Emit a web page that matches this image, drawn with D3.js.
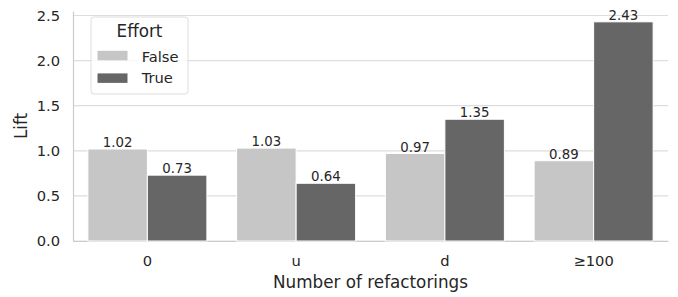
<!DOCTYPE html>
<html>
<head>
<meta charset="utf-8">
<script src="https://cdn.jsdelivr.net/npm/d3@7"></script>
<style>
  body { margin: 0; background: #fff; }
  text { font-family: "DejaVu Sans", sans-serif; fill: #262626; }
</style>
</head>
<body>
<svg id="chart" width="678" height="297"></svg>
<script>
const categories = ["0", "u", "d", "≥100"];
const seriesNames = ["False", "True"];
const falseValues = [1.02, 1.03, 0.97, 0.89];
const trueValues = [0.73, 0.64, 1.35, 2.43];
const yTicks = [0, 0.5, 1.0, 1.5, 2.0, 2.5];
const colors = { False: "#c6c6c6", True: "#666666" };

const svg = d3.select("#chart");
const margin = { left: 73, right: 10, top: 11, bottom: 56 };
const width = +svg.attr("width");
const height = +svg.attr("height");
const plotW = width - margin.left - margin.right;
const plotBottom = height - margin.bottom;

const data = categories.map((c, i) => ({
  cat: c,
  False: falseValues[i],
  True: trueValues[i]
}));

const x = d3.scaleBand()
  .domain(categories)
  .range([margin.left, margin.left + plotW])
  .paddingInner(0.2)
  .paddingOuter(0.1);

const xInner = d3.scaleBand()
  .domain(seriesNames)
  .range([0, x.bandwidth()]);

const y = d3.scaleLinear()
  .domain([0, 2.55])
  .range([plotBottom, margin.top]);

// grid lines
svg.append("g")
  .selectAll("line")
  .data(yTicks)
  .enter()
  .append("line")
  .attr("x1", margin.left)
  .attr("x2", margin.left + plotW)
  .attr("y1", (d) => y(d))
  .attr("y2", (d) => y(d))
  .attr("stroke", "#dddddd")
  .attr("stroke-width", 1.2);

// y axis
const yAxis = svg.append("g")
  .attr("transform", `translate(${margin.left},0)`)
  .call(d3.axisLeft(y).tickValues(yTicks).tickFormat(d3.format(".1f")).tickSize(0).tickPadding(13));
yAxis.select(".domain").attr("stroke", "#cccccc").attr("stroke-width", 1.2);
yAxis.selectAll("text").attr("font-size", "14.7px").attr("fill", "#262626");

// x axis
const xAxis = svg.append("g")
  .attr("transform", `translate(0,${plotBottom})`)
  .call(d3.axisBottom(x).tickSize(0).tickPadding(15));
xAxis.select(".domain").attr("stroke", "#cccccc").attr("stroke-width", 1.2);
xAxis.selectAll("text").attr("font-size", "14.7px").attr("fill", "#262626");

// bars
const groups = svg.append("g")
  .selectAll("g")
  .data(data)
  .enter()
  .append("g")
  .attr("transform", (d) => `translate(${x(d.cat)},0)`);

groups.selectAll("rect")
  .data((d) => seriesNames.map((s) => ({ key: s, value: d[s] })))
  .enter()
  .append("rect")
  .attr("x", (d) => xInner(d.key))
  .attr("width", xInner.bandwidth())
  .attr("y", (d) => y(d.value))
  .attr("height", (d) => y(0) - y(d.value))
  .attr("fill", (d) => colors[d.key])
  .attr("stroke", "#ffffff")
  .attr("stroke-width", 1);

groups.selectAll("text")
  .data((d) => seriesNames.map((s) => ({ key: s, value: d[s] })))
  .enter()
  .append("text")
  .attr("x", (d) => xInner(d.key) + xInner.bandwidth() / 2)
  .attr("y", (d) => y(d.value) - 2)
  .attr("text-anchor", "middle")
  .attr("font-size", "13.3px")
  .text((d) => d3.format(".2f")(d.value));

// axis labels
svg.append("text")
  .attr("x", margin.left + plotW / 2)
  .attr("y", 288)
  .attr("text-anchor", "middle")
  .attr("font-size", "16.8px")
  .text("Number of refactorings");

svg.append("text")
  .attr("transform", `translate(27,${(margin.top + plotBottom) / 2}) rotate(-90)`)
  .attr("text-anchor", "middle")
  .attr("font-size", "16.8px")
  .text("Lift");

// legend
const legend = svg.append("g").attr("transform", "translate(91,17)");
legend.append("rect")
  .attr("width", 97)
  .attr("height", 77)
  .attr("rx", 3)
  .attr("fill", "#ffffff")
  .attr("fill-opacity", 0.8)
  .attr("stroke", "#dddddd");
legend.append("text")
  .attr("x", 48.5)
  .attr("y", 20)
  .attr("text-anchor", "middle")
  .attr("font-size", "16.8px")
  .text("Effort");
seriesNames.forEach((s, i) => {
  legend.append("rect")
    .attr("x", 6.5)
    .attr("y", 33.8 + i * 22.6)
    .attr("width", 30)
    .attr("height", 9.5)
    .attr("fill", colors[s]);
  legend.append("text")
    .attr("x", 50.7)
    .attr("y", 44.7 + i * 21.7)
    .attr("font-size", "14.7px")
    .text(s);
});
</script>
</body>
</html>
